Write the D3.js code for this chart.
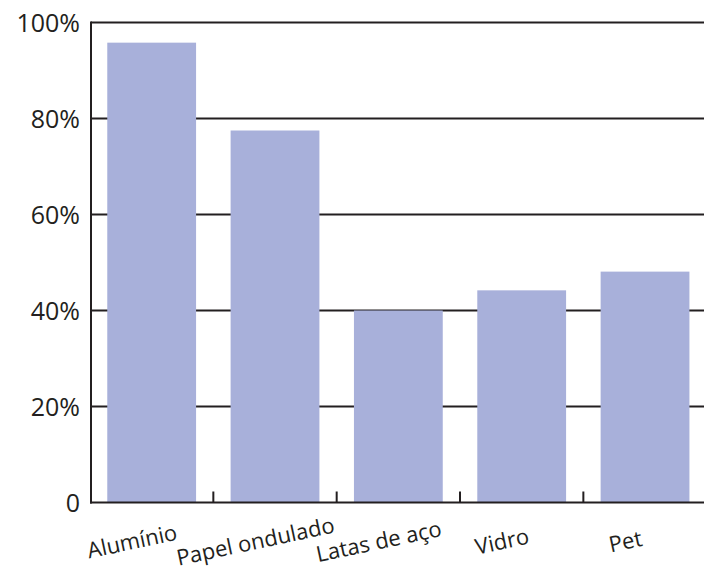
<!DOCTYPE html>
<html>
<head>
<meta charset="utf-8">
<script src="https://cdn.jsdelivr.net/npm/d3@7"></script>
<style>
  body { margin: 0; background: #fff; }
  text { font-family: "Open Sans", "Noto Sans", sans-serif; fill: #231f20; }
</style>
</head>
<body>
<svg id="chart" width="704" height="575"></svg>
<script>
var categories = ['Alumínio', 'Papel ondulado', 'Latas de aço', 'Vidro', 'Pet'];
var values = [95.8, 77.5, 40, 44.2, 48.1];
var yTicks = [0, 20, 40, 60, 80, 100];

var svg = d3.select('#chart');
var plotLeft = 91, plotRight = 706.7, plotTop = 22.5, plotBottom = 502.5;

var x = d3.scaleBand()
  .domain(categories)
  .range([90, plotRight])
  .paddingInner(0.28)
  .paddingOuter(0.14);

var y = d3.scaleLinear().domain([0, 100]).range([plotBottom, plotTop]);

// gridlines
svg.append('g')
  .selectAll('line')
  .data(yTicks.filter(function (d) { return d > 0; }))
  .enter()
  .append('line')
  .attr('x1', plotLeft)
  .attr('x2', 704)
  .attr('y1', function (d) { return y(d); })
  .attr('y2', function (d) { return y(d); })
  .attr('stroke', '#231f20')
  .attr('stroke-width', 2);

// bars
svg.append('g')
  .selectAll('rect')
  .data(values)
  .enter()
  .append('rect')
  .attr('x', function (d, i) { return x(categories[i]); })
  .attr('width', x.bandwidth())
  .attr('y', function (d) { return y(d); })
  .attr('height', function (d) { return y(0) - y(d); })
  .attr('fill', '#a8b0da');

// y labels
svg.append('g')
  .selectAll('text')
  .data(yTicks)
  .enter()
  .append('text')
  .attr('x', 80)
  .attr('y', function (d) { return y(d) + 9; })
  .attr('text-anchor', 'end')
  .attr('font-size', 25)
  .text(function (d) { return d === 0 ? '0' : d + '%'; });

// axes lines
svg.append('line')
  .attr('x1', plotLeft).attr('x2', plotLeft)
  .attr('y1', plotTop - 1).attr('y2', plotBottom + 1)
  .attr('stroke', '#231f20').attr('stroke-width', 2);
svg.append('line')
  .attr('x1', plotLeft - 1).attr('x2', 704)
  .attr('y1', plotBottom).attr('y2', plotBottom)
  .attr('stroke', '#231f20').attr('stroke-width', 2);

// category separators
var step = x.step();
svg.append('g')
  .selectAll('line')
  .data(categories.slice(1))
  .enter()
  .append('line')
  .attr('x1', function (d) { return x(d) - x.paddingInner() * step / 2; })
  .attr('x2', function (d) { return x(d) - x.paddingInner() * step / 2; })
  .attr('y1', plotBottom)
  .attr('y2', plotBottom - 11)
  .attr('stroke', '#231f20')
  .attr('stroke-width', 2);

// category labels
svg.append('g')
  .selectAll('text')
  .data(categories)
  .enter()
  .append('text')
  .attr('text-anchor', 'middle')
  .attr('font-size', 22)
  .attr('transform', function (d) {
    var cx = x(d) + x.bandwidth() / 2 - 18;
    return 'translate(' + cx + ',' + 549 + ') rotate(-12)';
  })
  .text(function (d) { return d; });
</script>
</body>
</html>
